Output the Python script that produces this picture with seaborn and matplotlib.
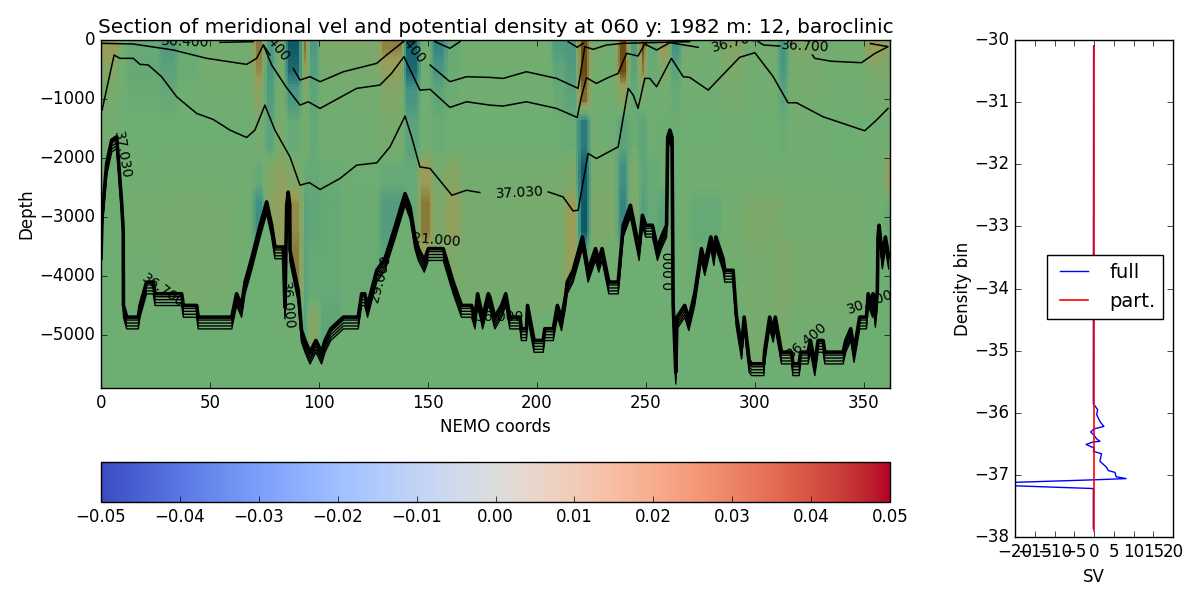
import numpy as np
import matplotlib
matplotlib.use("Agg")
import matplotlib.pyplot as plt
from matplotlib.colors import LinearSegmentedColormap, Normalize
from matplotlib.cm import ScalarMappable
import seaborn as sns

TITLE = "Section of meridional vel and potential density at 060 y: 1982 m: 12, baroclinic"

# meridional velocity anomaly (relative units) read per column and depth layer
col_edges = [0,8,12,27,35,45,60,70,75,80,85,92,95,100,110,128,139,146,152,158,165,190,207,213,219,224,229,237,242,247,250,256,261,266,270,285,295,311,315,330,351,360,362]
layer_edges = [0,300,700,1200,2000,2600,3400,4500,6000]
vel_0 = [.5,.05,-.1,-.3,-.05,.1,.05,.7,-.35,.1,-1,.75,-.35,.15,.15,.65,-.9,.05,-.6,-.1,.05,.05,-.3,-.35,1.0,.1,.05,1.0,-.3,1,-.1,.55,-.45,.1,.05,.2,.05,-.45,.15,.05,.45,.2]
vel_1 = [.25,0,-.1,-.2,-.05,.05,.05,.6,-.4,.1,-.85,.5,-.25,.1,.1,.4,-.85,0,-.4,-.05,.03,.03,-.15,-.3,1.0,.1,.03,1,-.2,.7,-.05,.15,-.2,.08,.03,.15,.03,-.4,.1,.03,.15,.1]
vel_2 = [.1,0,-.05,-.1,0,.03,.03,.3,-.3,.1,-.35,.2,-.15,.05,.05,.2,-.4,0,-.15,-.03,.02,.02,-.08,-.2,.8,.05,.02,.3,-.1,.1,0,.05,-.08,.05,.02,.08,.02,-.2,.08,.02,.08,.05]
vel_3 = [.05,0,0,0,0,0,0,.1,-.2,.15,-.1,.1,-.1,.02,.02,.1,-.2,.02,-.05,0,0,0,-.02,-.05,-.7,.05,0,-.2,-.03,-.2,0,-.03,-.03,.02,0,.02,0,-.05,.03,0,.02,.02]
vel_4 = [0,0,.02,.03,.03,.03,.03,-.1,.2,.35,.2,-.1,-.1,-.05,-.02,-.1,-.1,.5,.1,.25,.05,.08,.08,.15,-1,.1,.1,-.5,.15,-.2,-.1,0,0,.02,.03,.03,.03,.03,.03,.02,.02,.5]
vel_5 = [0,0,.05,.08,.1,.08,.03,-.5,.3,.4,.6,-.2,-.15,-.1,-.03,-.3,-.1,.7,.15,.4,.08,.1,.1,.5,-1,.15,.15,-.6,.2,-.3,-.1,-.2,0,.05,-.1,.05,.15,.1,.05,.05,.02,-.1]
vel_6 = [0,0,.03,.1,.1,.08,.03,0,.3,.4,.7,-.2,-.1,-.1,-.05,-.2,0,.4,.1,.15,.08,.1,.1,.45,-.3,.1,.05,0,.1,0,0,0,0,.03,-.05,.05,.1,.2,.1,.08,.02,0]
vel_7 = [0,0,0,.02,.02,0,0,0,.1,.2,.1,-.2,.25,-.15,-.03,0,0,.1,.05,.05,.03,.03,.02,.02,0,0,0,0,0,0,0,0,0,0,0,0,.1,.15,.05,.03,0,0]

# seabed outline
bathy_x = [0,.5,2.6,4.9,7.2,9.5,10.2,10.3,11.8,17.1,17.9,20.9,24,24.8,37,37.8,43.9,44.6,60,62.2,64.5,66.1,69.1,73,76,78.3,79.8,83.6,84.4,85.2,85.9,86.6,86.7,90.5,92,93.6,95.9,98.6,101.2,102.8,105.4,111.2,118,119.6,121,122.3,126.5,130.3,134.9,139.5,141.8,144,145.6,148.3,150.2,157,158.6,161.6,165.4,170,171.6,172.8,175.1,177.7,178.4,180.7,183.8,185.7,187.6,192.2,192.9,195.2,195.7,198.7,202.9,203.6,207.5,209.4,211.3,213.3,213.9,216.6,220.9,223.5,226.9,228.4,229.9,233,237.3,239.6,242.9,246.9,248.4,250,253,255.3,257.1,259.5,260,261,262,262.5,263.7,264.3,267.8,269.7,272.4,275.5,277,279.8,281.2,282.1,285.4,286.2,290,291.5,293.9,295.1,297.4,298.5,304.1,304.5,306.8,308.4,309.4,312.2,316.8,317.5,320.3,321,324.4,325.5,327.5,329,331.3,332.1,340.5,341.7,344,345.5,348.1,351.2,352,354,354.2,355.3,356.2,356.5,357,358.5,359.9,361.4]
bathy_d = [-3700,-3000,-2094,-1698,-1641,-2773,-3226,-4500,-4698,-4698,-4500,-4104,-4104,-4302,-4302,-4500,-4500,-4698,-4698,-4302,-4500,-4104,-3707,-3141,-2745,-3141,-3509,-3509,-4528,-2800,-2580,-2800,-3566,-4245,-4924,-5094,-5292,-5094,-5292,-5094,-4896,-4698,-4698,-4302,-4302,-4500,-3905,-3707,-3170,-2604,-2830,-3340,-3537,-3736,-3537,-3537,-3736,-4104,-4500,-4500,-4698,-4302,-4698,-4302,-4358,-4698,-4500,-4302,-4698,-4698,-4896,-4896,-4500,-5094,-5094,-4896,-4896,-4500,-4726,-4302,-4104,-3905,-3339,-3905,-3537,-3736,-3537,-4104,-4104,-3141,-2802,-3537,-2972,-3141,-3141,-3537,-3339,-3141,-1650,-1528,-1650,-4471,-5632,-4698,-4500,-4726,-4302,-3537,-3792,-3339,-3622,-3339,-3707,-3905,-3905,-4670,-5207,-4698,-5434,-5490,-5490,-5264,-4698,-4924,-4698,-5292,-5292,-5490,-5490,-5292,-5292,-5094,-5490,-5094,-5094,-5292,-5292,-5094,-4896,-5264,-4698,-4698,-4302,-4500,-4302,-4670,-4245,-3339,-3141,-3679,-3339,-3679]
ladder_offsets = [50, 100, 150, 200]

# density contours, one pair of arrays per drawn piece
c37a_x = [.5,6,8.7,14.8,17.9,21.7,27.8,34.7,43.9,51.5,59.2,66.8,70.6,75.2,79.8,86.7,91.3,95.6,100.5,109.6,117.3,126.5,132.6,139.5,142.5,146.3,151,161,167.7,173.8]
c37a_d = [-1188,-255,-311,-311,-413,-424,-622,-962,-1245,-1347,-1528,-1653,-1528,-1104,-1528,-1981,-2462,-2417,-2535,-2349,-2122,-2083,-1811,-1290,-1641,-2151,-2179,-2632,-2547,-2586]
c37b_x = [205.2,212,216.6,218.9,223.5,227.3,237.3,241.9,244.2,246.4,249.5,251.8,254.9,261.7,267.1,270.1,278.6,293,300,308.4,315.2,319.1,331.3,350.4,355.8,361.1]
c37b_d = [-2575,-2660,-2898,-2886,-1924,-2009,-1811,-820,-934,-1160,-651,-651,-792,-311,-622,-634,-849,-294,-215,-622,-1064,-1064,-1302,-1539,-1358,-1160]
mid_x = [74.5,78.3,85,91.3,95.1,100.5,117.3,128,133.3,139,146.3,151,160.1,167.7,178.4,184.5,195.2,209,218.5,220.4,222.7,227.3,231.9,237.3,241.1,246.4,249.5,254.9,261,274]
mid_d = [-85,-424,-800,-1104,-1047,-1160,-820,-764,-566,-283,-849,-837,-1143,-1047,-1104,-1120,-1047,-1160,-1313,-962,-639,-736,-651,-566,-226,-271,-68,-170,-45,-124]
mid2_x = [301.5,304,311.4]
mid2_d = [-28,-85,-102]
mid3_x = [326.4,327.5,335,348.9,355,361.1,353]
mid3_d = [-255,-311,-360,-385,-230,-113,-60]
topa_x = [.5,14.8,33.2,48.5,66.8,71.4,74.5,77.5]
topa_d = [-56,-68,-170,-311,-413,-311,-85,-255]
topb_x = [88.2,91.3,95.9,100.5,111.2,126.5,131,138.7]
topb_d = [-481,-679,-622,-707,-538,-396,-255,-28]
topc_x = [151,160.1,167.7,178.4,184.5,195.2,209,218.9,222,225.8,231.9,239.6,251.8,270]
topc_d = [-424,-707,-622,-634,-651,-538,-651,-820,-113,-158,-85,-56,-45,-28]
short_a_x = [54.6,69.9]
short_a_d = [-40,-28]
short_b_x = [153.2,160.1,164.7]
short_b_d = [-28,-141,-28]
short_c_x = [214.3,218.5,221.2]
short_c_d = [-28,-124,-56]

contour_labels = ["36.400","36.400","36.400","36.700","36.700","37.030","37.030","21.000","36.000","0.000","36.400","30.000","29.000","36.700","36.000"]
label_x = [38.5,78.4,140.4,290.8,323,192,9.6,154,85.3,260.6,324,352.7,128,28.5,183]
label_d = [-30,-34,-68,-34,-113,-2590,-1953,-3396,-4500,-3905,-5090,-4450,-4040,-4250,-4700]
label_rot = [-2,-50,-50,15,-3,3,-80,-5,-85,90,40,20,75,-35,0]

# transport per density bin
full_sv = [-.1,-.17,-.17,.25,.93,.67,1.5,2.5,0,-.84,-.17,.67,1.5,-.2,-2,.08,-.17,1.9,1.5,3.2,3.6,5.3,5.6,8.1,-.17,-20,-25,-25,-.17,-.17]
full_bin = [-30.1,-35.46,-35.86,-35.89,-35.95,-36.03,-36.14,-36.22,-36.26,-36.31,-36.35,-36.42,-36.46,-36.47,-36.51,-36.57,-36.62,-36.66,-36.78,-36.88,-36.93,-36.96,-37.03,-37.06,-37.08,-37.12,-37.135,-37.165,-37.22,-37.86]
part_sv = [.08,.08]
part_bin = [-30.1,-37.9]

cb_ticks = [-0.05,-0.04,-0.03,-0.02,-0.01,0.0,0.01,0.02,0.03,0.04,0.05]

plt.style.use("classic")
plt.rcParams.update({"figure.facecolor": "white", "savefig.facecolor": "white",
                     "font.family": ["DejaVu Sans"], "font.size": 12})

fig = plt.figure(figsize=(12, 6), dpi=100)
W, H = 1200.0, 600.0
def box(l, t, r, b):
    return [l / W, 1 - b / H, (r - l) / W, (b - t) / H]

# velocity field as seaborn heatmap underneath the transparent data axes
section_cmap = LinearSegmentedColormap.from_list(
    "section", ["#0f5a66", "#3f8f85", "#6fae72", "#9a9c58", "#6a4a12"])
values = np.array([vel_0, vel_1, vel_2, vel_3, vel_4, vel_5, vel_6, vel_7])
col_centres = np.arange(362) + 0.5
row_centres = np.arange(118) * 50 + 25.0
seabed = np.interp(col_centres, bathy_x, bathy_d)
ci = np.clip(np.searchsorted(col_edges, col_centres) - 1, 0, values.shape[1] - 1)
ri = np.clip(np.searchsorted(layer_edges, row_centres) - 1, 0, values.shape[0] - 1)
grid = values[np.ix_(ri, ci)]
# soften the hard block edges of the read-off table for display
kv = np.ones(7) / 7.0
kh = np.ones(3) / 3.0
pad_v = np.pad(grid, ((3, 3), (0, 0)), mode="edge")
grid = np.apply_along_axis(lambda c: np.convolve(c, kv, mode="valid"), 0, pad_v)
pad_h = np.pad(grid, ((0, 0), (1, 1)), mode="edge")
grid = np.apply_along_axis(lambda r: np.convolve(r, kh, mode="valid"), 1, pad_h)
grid = np.where(-row_centres[:, None] < seabed[None, :] - 100, 0.0, grid)

ax_field = fig.add_axes(box(101, 40, 890, 388))
sns.heatmap(grid, ax=ax_field, cmap=section_cmap, vmin=-1, vmax=1, cbar=False,
            xticklabels=False, yticklabels=False, rasterized=True)
ax_field.axis("off")

ax = fig.add_axes(box(101, 40, 890, 388))
ax.patch.set_visible(False)

def line(a, xs, ys, color="black", lw=1.0):
    l0 = len(a.lines)
    sns.lineplot(x=np.array(xs, float), y=np.array(ys, float), ax=a, color=color,
                 linewidth=lw, sort=False, estimator=None, legend=False, errorbar=None)
    for ln in a.lines[l0:]:
        ln.set_solid_joinstyle("round")

for pair in [(c37a_x, c37a_d), (c37b_x, c37b_d), (mid_x, mid_d), (mid2_x, mid2_d), (mid3_x, mid3_d),
             (topa_x, topa_d), (topb_x, topb_d), (topc_x, topc_d), (short_a_x, short_a_d),
             (short_b_x, short_b_d), (short_c_x, short_c_d)]:
    line(ax, pair[0], pair[1], lw=1.1)

# tightly packed contours hug the seabed and stack up as ladders on its flats
for off in ladder_offsets:
    line(ax, bathy_x, np.array(bathy_d, float) - off, lw=1.0)
line(ax, bathy_x, bathy_d, lw=2.6)

for s, lx, ld, r in zip(contour_labels, label_x, label_d, label_rot):
    ax.text(lx, ld, s, rotation=r, fontsize=10, ha="center", va="center",
            rotation_mode="anchor", clip_on=True, color="black")

ax.set_xlim(0, 362)
ax.set_ylim(-5900, 0)
ax.set_xticks(np.arange(0, 351, 50))
ax.set_yticks(np.arange(-5000, 1, 1000))
ax.set_xlabel("NEMO coords", fontsize=12)
ax.set_ylabel("Depth", fontsize=12, labelpad=3)
ax.set_title(TITLE, fontsize=14.4)

# colour bar
cax = fig.add_axes(box(101, 462, 890, 502))
sm = ScalarMappable(norm=Normalize(-0.05, 0.05), cmap="coolwarm")
cb = fig.colorbar(sm, cax=cax, orientation="horizontal", ticks=cb_ticks)
cb.ax.tick_params(labelsize=12)

# transport panel
ax2 = fig.add_axes(box(1015, 40, 1173, 537))
sns.lineplot(x=np.array(full_sv), y=np.array(full_bin), ax=ax2, color="blue", linewidth=1,
             sort=False, estimator=None, errorbar=None, label="full")
sns.lineplot(x=np.array(part_sv), y=np.array(part_bin), ax=ax2, color="red", linewidth=1.2,
             sort=False, estimator=None, errorbar=None, label="part.")
ax2.set_xlim(-20, 20)
ax2.set_ylim(-38, -30)
ax2.set_xticks(np.arange(-20, 21, 5))
ax2.set_yticks(np.arange(-38, -29, 1))
ax2.set_xlabel("SV", fontsize=12)
ax2.set_ylabel("Density bin", fontsize=12, labelpad=2)
ax2.legend(loc="center", bbox_to_anchor=((1105 - 1015) / 158, 1 - (287 - 40) / 497), fontsize=14)

fig.savefig("out.png", dpi=100)
